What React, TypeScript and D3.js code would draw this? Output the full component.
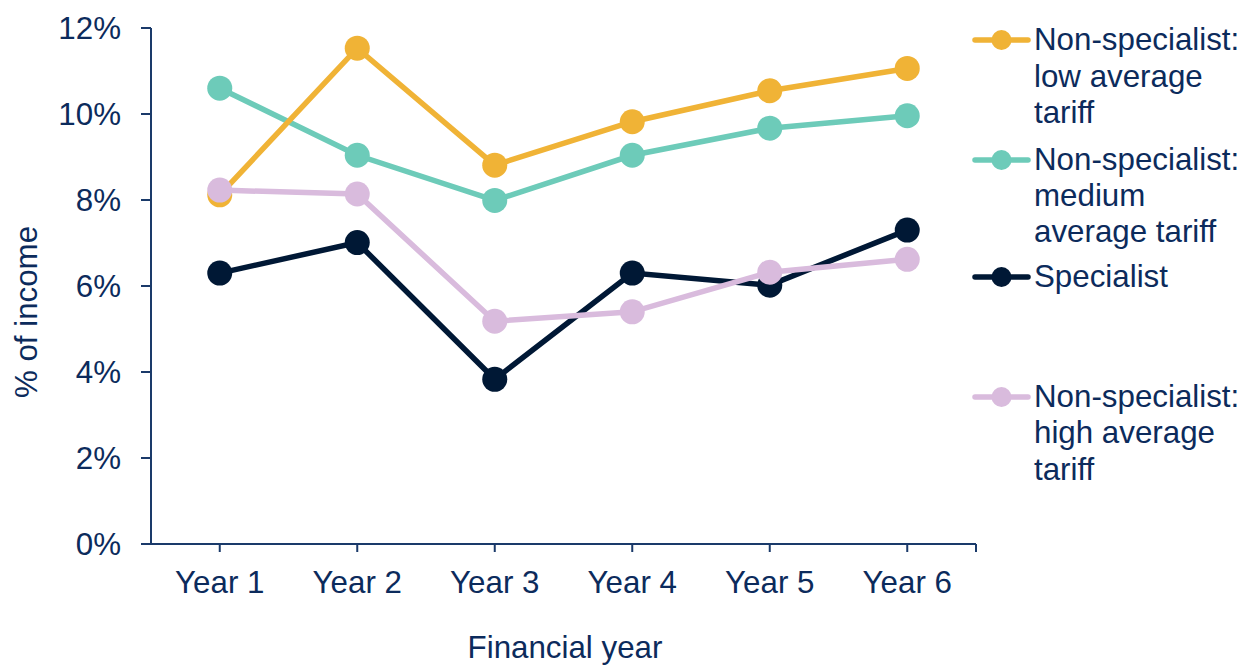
import React from "react";
import * as d3 from "d3";

const years = ["Year 1", "Year 2", "Year 3", "Year 4", "Year 5", "Year 6"];
const lowTariff = [8.12, 11.53, 8.81, 9.82, 10.54, 11.06];
const mediumTariff = [10.6, 9.04, 7.99, 9.04, 9.67, 9.96];
const specialist = [6.3, 7.01, 3.83, 6.3, 6.02, 7.3];
const highTariff = [8.23, 8.14, 5.18, 5.4, 6.32, 6.62];
const yTicks = [0, 2, 4, 6, 8, 10, 12];

const seriesDefs = [
  { name: "low", values: lowTariff, color: "#F0B336", legend: ["Non-specialist:", "low average", "tariff"] },
  { name: "medium", values: mediumTariff, color: "#6DCBB9", legend: ["Non-specialist:", "medium", "average tariff"] },
  { name: "specialist", values: specialist, color: "#001835", legend: ["Specialist"] },
  { name: "high", values: highTariff, color: "#D9BBDD", legend: ["Non-specialist:", "high average", "tariff"] },
];
const drawOrder = ["medium", "low", "specialist", "high"];
const legendBaselines = [[50, 87, 123], [170, 206, 242], [287], [407, 443, 480]];

const W = 1245;
const H = 666;
const left = 151;
const right = 976;
const top = 28;
const bottom = 544;
const textColor = "#0C2B5C";
const axisColor = "#1A3A6A";
const font = "'Liberation Sans', Arial, sans-serif";
const fs = 31.3;

export default function App() {
  const x = d3.scaleBand<string>().domain(years).range([left, right]);
  const y = d3.scaleLinear().domain([0, 12]).range([bottom, top]);
  const cx = (i: number) => (x(years[i]) as number) + x.bandwidth() / 2;
  const line = d3
    .line<number>()
    .x((_, i) => cx(i))
    .y((d) => y(d));

  return (
    <svg
      width={W}
      height={H}
      style={{ position: "absolute", left: 0, top: 0, background: "#fff" }}
      fontFamily={font}
    >
      <line x1={left} x2={left} y1={top} y2={bottom} stroke={axisColor} strokeWidth={2} />
      <line x1={left} x2={right} y1={bottom} y2={bottom} stroke={axisColor} strokeWidth={2} />
      {yTicks.map((t) => (
        <g key={t}>
          <line x1={left - 10} x2={left} y1={y(t)} y2={y(t)} stroke={axisColor} strokeWidth={2} />
          <text x={121} y={y(t) + 10.5} textAnchor="end" fontSize={fs} fill={textColor}>
            {t}%
          </text>
        </g>
      ))}
      {years.map((yr, i) => (
        <g key={yr}>
          <line x1={cx(i)} x2={cx(i)} y1={bottom} y2={bottom + 8} stroke={axisColor} strokeWidth={2} />
          <text x={cx(i)} y={593} textAnchor="middle" fontSize={fs} fill={textColor}>
            {yr}
          </text>
        </g>
      ))}
      <line x1={right} x2={right} y1={bottom} y2={bottom + 8} stroke={axisColor} strokeWidth={2} />
      <text x={565} y={658} textAnchor="middle" fontSize={fs} fill={textColor}>
        Financial year
      </text>
      <text
        transform={`translate(37, ${312}) rotate(-90)`}
        textAnchor="middle"
        fontSize={fs}
        fill={textColor}
      >
        % of income
      </text>

      {drawOrder.map((n) => {
        const s = seriesDefs.find((d) => d.name === n)!;
        return (
          <g key={n}>
            <path d={line(s.values) || ""} fill="none" stroke={s.color} strokeWidth={5.5} />
            {s.values.map((v, i) => (
              <circle key={i} cx={cx(i)} cy={y(v)} r={12.5} fill={s.color} />
            ))}
          </g>
        );
      })}

      {seriesDefs.map((s, k) => {
        const bl = legendBaselines[k];
        const my = bl[0] - 10;
        return (
          <g key={s.name}>
            <line x1={975} x2={1028} y1={my} y2={my} stroke={s.color} strokeWidth={5.5} strokeLinecap="round" />
            <circle cx={1001.5} cy={my} r={10} fill={s.color} />
            {s.legend.map((t, j) => (
              <text key={j} x={1034} y={bl[j]} fontSize={fs} fill={textColor}>
                {t}
              </text>
            ))}
          </g>
        );
      })}
    </svg>
  );
}
